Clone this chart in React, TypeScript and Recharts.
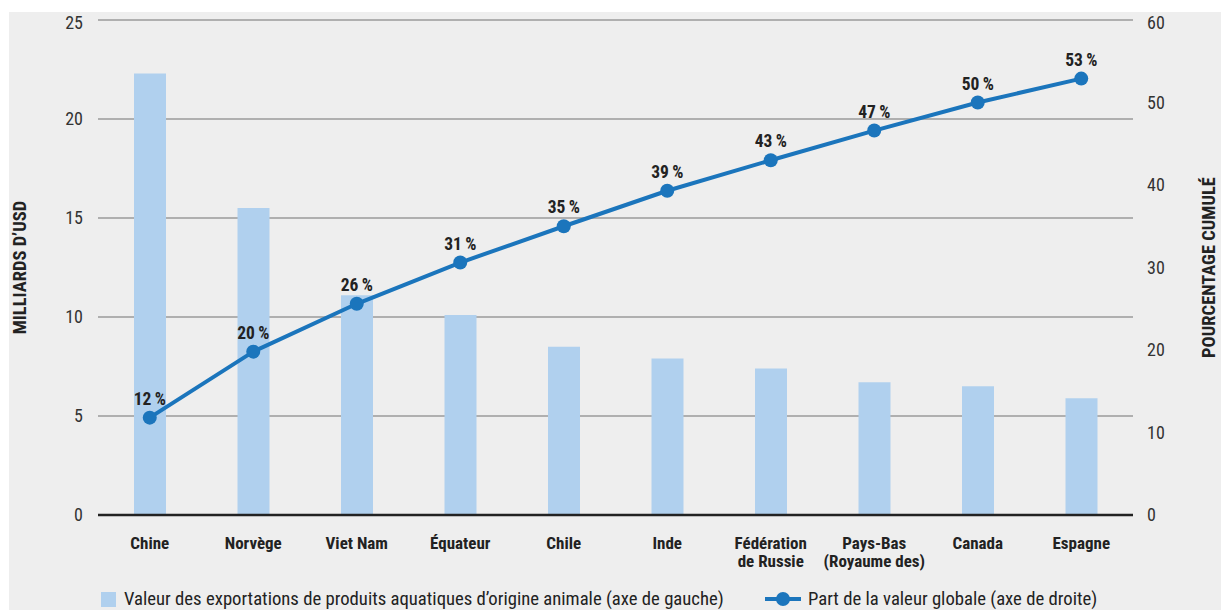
import React from 'react';
import { ComposedChart, Bar, Line, XAxis, YAxis, CartesianGrid, LabelList } from 'recharts';

const categories = [
  'Chine',
  'Norvège',
  'Viet Nam',
  'Équateur',
  'Chile',
  'Inde',
  'Fédération\nde Russie',
  'Pays-Bas\n(Royaume des)',
  'Canada',
  'Espagne',
];
// milliards d'USD (axe de gauche)
const exportValues = [22.3, 15.5, 11.1, 10.1, 8.5, 7.9, 7.4, 6.7, 6.5, 5.9];
// pourcentage cumulé (axe de droite)
const cumulativeShare = [11.8, 19.8, 25.6, 30.6, 35.0, 39.3, 43.0, 46.6, 50.0, 52.9];
const leftTicks = [0, 5, 10, 15, 20, 25];
const rightTicks = [0, 10, 20, 30, 40, 50, 60];

const barLabel = "Valeur des exportations de produits aquatiques d’origine animale (axe de gauche)";
const lineLabel = 'Part de la valeur globale (axe de droite)';

const FONT = "'Liberation Sans Narrow', 'Roboto Condensed', 'DejaVu Sans Condensed', 'Arial Narrow', Roboto, sans-serif";
const BAR_COLOR = '#b0d0ee';
const LINE_COLOR = '#1b75bc';
const BG = '#eeeeee';

const data = categories.map((name, i) => ({
  name,
  exports: exportValues[i],
  share: cumulativeShare[i],
}));

const CategoryTick = (props: any) => {
  const { x, y, payload } = props;
  const lines = String(payload.value).split('\n');
  return (
    <text x={x} y={y} textAnchor="middle" fontFamily={FONT} fontSize={17} fontWeight={700} fill="#222">
      {lines.map((l, i) => (
        <tspan key={i} x={x} dy={i === 0 ? 20 : 18}>
          {l}
        </tspan>
      ))}
    </text>
  );
};

// rotated axis title, centred on the plot height
const AxisTitle = ({ cx, viewBox, text }: any) => {
  const cy = viewBox.y + viewBox.height / 2;
  return (
    <text
      x={cx}
      y={cy}
      transform={`rotate(-90 ${cx} ${cy})`}
      textAnchor="middle"
      dominantBaseline="central"
      fontFamily={FONT}
      fontSize={18.5}
      fontWeight={700}
      fill="#222"
    >
      {text}
    </text>
  );
};

const App: React.FC = () => {
  return (
    <div style={{ position: 'absolute', left: 9, top: 12, width: 1212, height: 598, background: BG, fontFamily: FONT }}>
      <ComposedChart width={1212} height={598} data={data} margin={{ top: 8, right: 0, bottom: 0, left: 0 }}>
        <CartesianGrid yAxisId="left" vertical={false} stroke="#9a9a9a" strokeWidth={1.5} />
        <XAxis
          dataKey="name"
          height={95}
          axisLine={{ stroke: '#222', strokeWidth: 2.5 }}
          tickLine={false}
          tickMargin={8}
          interval={0}
          tick={<CategoryTick />}
        />
        <YAxis
          yAxisId="left"
          orientation="left"
          width={89}
          domain={[0, 25]}
          ticks={leftTicks}
          axisLine={false}
          tickLine={false}
          tickMargin={9}
          tick={{ fontFamily: FONT, fontSize: 18, fill: '#333' }}
          label={(p: any) => <AxisTitle cx={11} viewBox={p.viewBox} text="MILLIARDS D’USD" />}
        />
        <YAxis
          yAxisId="right"
          orientation="right"
          width={88}
          domain={[0, 60]}
          ticks={rightTicks}
          axisLine={false}
          tickLine={false}
          tickMargin={8}
          tick={{ fontFamily: FONT, fontSize: 18, fill: '#333' }}
          label={(p: any) => <AxisTitle cx={1200} viewBox={p.viewBox} text="POURCENTAGE CUMULÉ" />}
        />
        <Bar yAxisId="left" dataKey="exports" fill={BAR_COLOR} barSize={32} isAnimationActive={false} />
        <Line
          yAxisId="right"
          dataKey="share"
          stroke={LINE_COLOR}
          strokeWidth={4}
          dot={{ r: 7, fill: LINE_COLOR, stroke: LINE_COLOR, strokeWidth: 0 }}
          activeDot={false}
          isAnimationActive={false}
        >
          <LabelList
            dataKey="share"
            position="top"
            offset={13}
            formatter={(v: any) => `${Math.round(Number(v))}\u2009%`}
            style={{ fontFamily: FONT, fontSize: 17.5, fontWeight: 700, fill: '#222' }}
          />
        </Line>
      </ComposedChart>
      <div style={{ position: 'absolute', left: 92, top: 576, display: 'flex', alignItems: 'center', fontSize: 18.7, lineHeight: '22px', color: '#222', whiteSpace: 'nowrap' }}>
        <span style={{ display: 'inline-block', width: 15, height: 15, background: BAR_COLOR, marginRight: 8 }} />
        <span>{barLabel}</span>
      </div>
      <div style={{ position: 'absolute', left: 756, top: 576, display: 'flex', alignItems: 'center', fontSize: 18.7, lineHeight: '22px', color: '#222', whiteSpace: 'nowrap' }}>
        <svg width={36} height={16} style={{ marginRight: 7 }}>
          <line x1={0} y1={8} x2={36} y2={8} stroke={LINE_COLOR} strokeWidth={4} />
          <circle cx={18} cy={8} r={7} fill={LINE_COLOR} />
        </svg>
        <span>{lineLabel}</span>
      </div>
    </div>
  );
};

export default App;
